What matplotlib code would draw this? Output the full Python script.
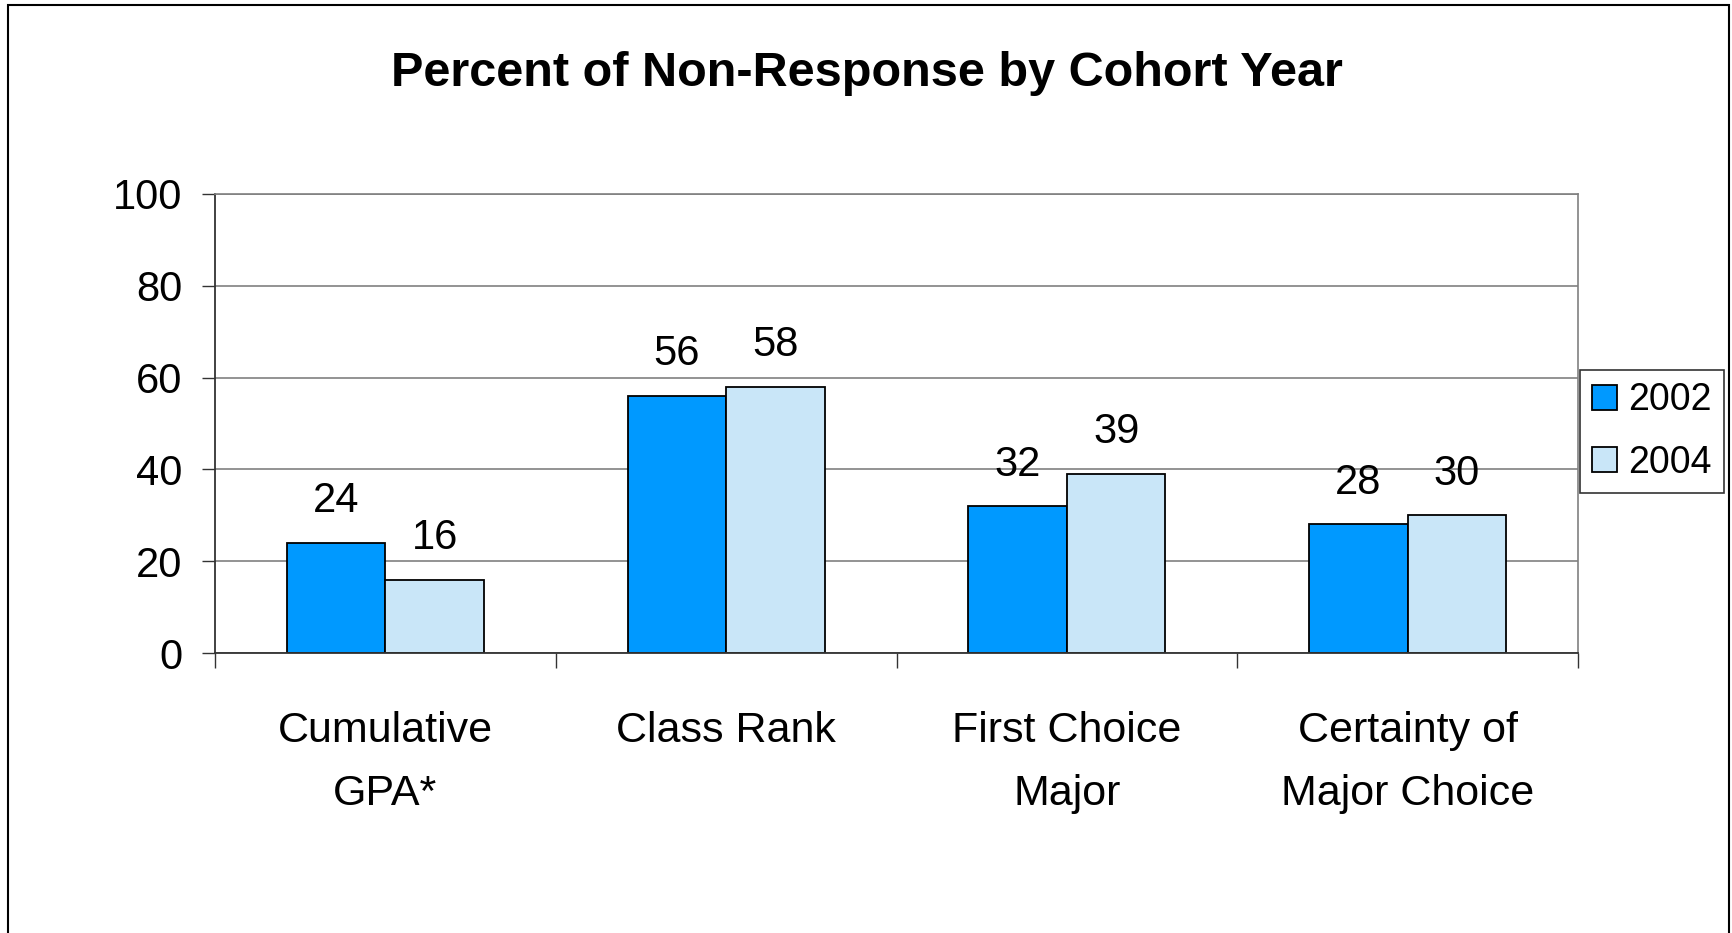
import numpy as np
import matplotlib
matplotlib.use('Agg')
import matplotlib.pyplot as plt
from matplotlib.patches import Rectangle

categories = ['Cumulative\nGPA*', 'Class Rank', 'First Choice\nMajor', 'Certainty of\nMajor Choice']
years = ['2002', '2004']
vals_2002 = [24, 56, 32, 28]
vals_2004 = [16, 58, 39, 30]
labels_2002 = ['24', '56', '32', '28']
labels_2004 = ['16', '58', '39', '30']
colors = ['#0099FF', '#C9E6F8']

plt.rcParams['font.family'] = ['Liberation Sans', 'DejaVu Sans']

fig = plt.figure(figsize=(17.33, 9.33), dpi=100)
ax = fig.add_axes([0.1241, 0.3001, 0.7865, 0.492])

x = np.arange(len(categories))
w = 0.289
b1 = ax.bar(x - w / 2, vals_2002, w, color=colors[0], edgecolor='black', linewidth=1.3, label=years[0])
b2 = ax.bar(x + w / 2, vals_2004, w, color=colors[1], edgecolor='black', linewidth=1.3, label=years[1])

for bars, labs in [(b1, labels_2002), (b2, labels_2004)]:
    for r, t in zip(bars, labs):
        ax.annotate(t, (r.get_x() + r.get_width() / 2, r.get_height()),
                    xytext=(0, 22), textcoords='offset points',
                    ha='center', va='baseline', fontsize=30)

ax.set_ylim(0, 100)
ax.set_xlim(-0.5, len(categories) - 0.5)
ax.set_yticks([0, 20, 40, 60, 80, 100])
ax.tick_params(axis='y', labelsize=30, length=9.5, width=1, pad=14, color='#333333')
ax.yaxis.grid(True, color='#808080', linewidth=1.2)
ax.set_axisbelow(True)

ax.set_xticks(x)
ax.set_xticklabels(categories, fontsize=31, linespacing=1.73)
ax.tick_params(axis='x', which='major', length=0, pad=42)
ax.set_xticks(np.arange(-0.5, len(categories)), minor=True)
ax.tick_params(axis='x', which='minor', length=11, width=1, color='#333333')

for s in ['left', 'bottom']:
    ax.spines[s].set_color('#333333')
    ax.spines[s].set_linewidth(1.3)
for s in ['top', 'right']:
    ax.spines[s].set_color('#808080')
    ax.spines[s].set_linewidth(1.2)

leg = ax.legend(loc='upper left', bbox_to_anchor=(1580 / 1733, 1 - 370 / 933),
                bbox_transform=fig.transFigure, fontsize=27, frameon=True, fancybox=False,
                borderaxespad=0, handlelength=0.65, handleheight=0.65, handletextpad=0.3,
                labelspacing=0.7, borderpad=0.33)
leg.get_frame().set_edgecolor('black')
leg.get_frame().set_linewidth(1.2)

fig.text(0.5, 1 - 74 / 933, 'Percent of Non-Response by Cohort Year',
         ha='center', va='center', fontsize=35, fontweight='bold')

fig.patches.append(Rectangle((8 / 1733, -0.05), 1721 / 1733, 1.0446, transform=fig.transFigure,
                             fill=False, edgecolor='black', linewidth=1.5))

fig.savefig('out.png', dpi=100)
